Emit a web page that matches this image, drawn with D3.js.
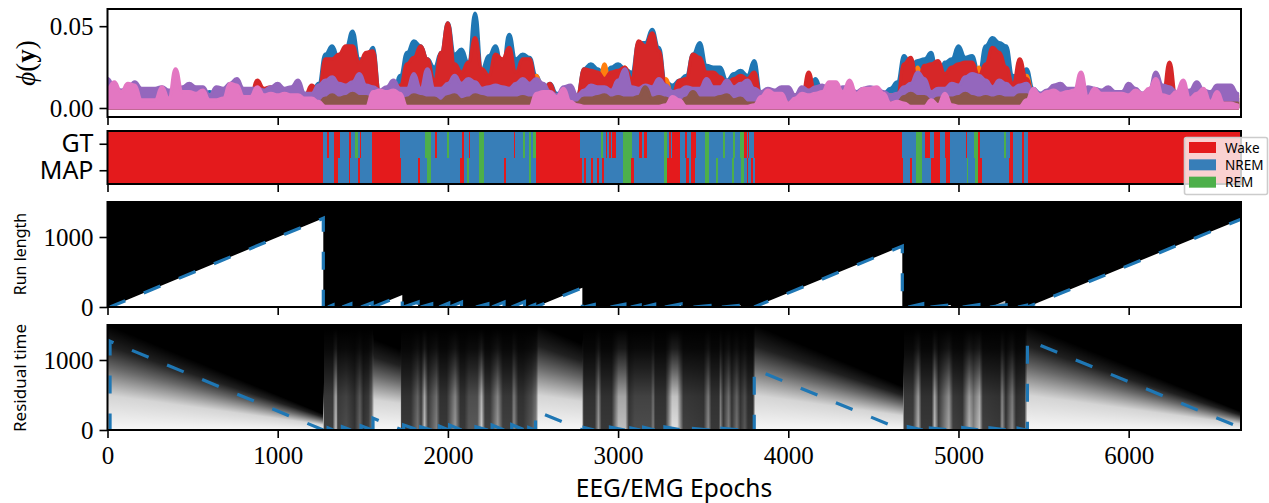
<!DOCTYPE html>
<html>
<head>
<meta charset="utf-8">
<script src="https://cdn.jsdelivr.net/npm/d3@7"></script>
<style>
  html, body { margin: 0; background: #fff; }
  svg { display: block; }
  .num { font-family: "Liberation Serif", serif; font-size: 25px; fill: #000; }
  .sans { font-family: "Noto Sans", sans-serif; fill: #000; }
</style>
</head>
<body>
<div id="chart"></div>
<script>
// phi(y) per epoch bin (one value every phiStep epochs), in thousandths
const phiStep = 40;
const phiBlue = [8,8,8,8,9,8,8,8,8,8,8,8,9,8,8,10,8,9,8,8,8,9,8,8,9,8,8,11,9,9,9,15,33,38,30,37,47,30,30,37,10,9,9,20,34,41,38,30,25,34,52,33,36,28,58,24,32,
  38,24,45,30,33,31,20,12,15,9,8,8,8,24,27,24,20,25,27,24,22,40,40,48,37,16,14,17,20,33,40,26,25,25,17,21,23,20,29,9,8,8,8,8,8,8,8,18,10,9,9,9,9,9,9,9,
  9,9,12,16,32,26,29,30,34,14,28,30,38,31,32,22,38,43,40,38,20,18,24,12,9,9,9,9,9,9,9,9,9,9,9,9,9,10,9,9,9,9,9,9,9,9,9,8,8,9,9,9,8,6];
const phiRed = [7,7,7,7,7,7,7,7,7,7,7,7,7,7,7,7,7,7,7,7,7,7,17,12,13,10,9,9,9,8,14,10,30,30,33,38,38,28,34,35,10,8,8,14,27,31,38,30,17,34,52,27,22,28,43,24,20,
  33,30,37,22,30,30,15,10,15,7,6,8,8,24,23,22,18,22,23,25,18,41,38,46,35,14,9,17,18,33,31,22,22,19,15,18,20,18,22,8,7,7,7,7,7,7,22,8,8,8,8,8,8,8,8,8,
  7,7,7,8,27,31,14,26,27,29,21,25,27,28,28,20,27,37,34,25,15,30,18,8,7,7,7,7,7,7,7,7,7,7,7,7,7,7,7,7,7,7,8,28,7,7,7,7,7,7,7,7,6,4];
const phiPurple = [18,13,11,12,16,12,12,12,13,11,11,13,15,13,13,8,13,12,15,18,12,12,12,11,13,15,12,13,17,9,9,14,17,19,15,14,16,21,14,13,11,13,17,12,12,21,12,24,12,12,15,20,15,18,16,12,13,
  14,13,12,15,18,15,18,15,10,8,13,14,8,11,14,13,13,11,17,24,13,12,14,13,18,14,10,11,13,12,12,18,13,13,17,13,15,17,12,10,12,11,13,13,8,13,11,13,14,11,11,13,13,10,12,13,
  12,10,8,9,13,15,22,18,10,12,12,15,14,19,21,20,17,13,17,15,12,14,15,10,9,11,14,15,12,12,10,13,12,11,13,10,10,15,12,9,11,22,14,13,10,10,11,16,11,10,14,14,14,9];
const phiBrown = [3,3,3,3,3,3,3,3,3,3,3,3,3,3,3,3,3,3,3,3,3,3,3,3,3,3,3,3,3,3,3,3,6,8,6,7,9,7,7,5,3,3,3,3,6,8,7,6,6,4,7,8,5,6,8,7,6,
  6,6,6,6,7,6,6,3,3,3,3,3,3,6,6,7,8,6,7,6,6,7,13,6,7,6,3,3,6,10,6,6,6,7,8,5,6,3,3,3,3,3,3,3,3,3,3,3,3,3,3,3,3,3,3,3,
  3,3,3,3,7,9,7,7,4,6,6,6,7,9,7,6,7,6,7,6,6,8,8,3,3,3,3,3,3,3,3,3,3,3,3,3,3,3,3,3,3,3,3,3,3,3,3,3,3,3,3,3,3,3];
const phiPink = [12,16,10,15,14,5,5,5,13,6,24,10,10,9,11,5,5,6,15,14,7,7,13,8,9,8,9,8,8,6,6,4,1,1,1,1,1,1,1,10,11,10,11,9,1,1,1,1,1,1,1,1,1,1,1,1,1,
  1,1,1,1,1,1,9,10,10,7,12,4,2,1,1,1,1,1,1,1,1,1,1,1,1,2,7,5,1,1,1,1,1,1,1,1,1,1,2,7,11,9,9,3,6,9,8,9,10,16,16,10,17,9,12,12,
  13,9,3,4,3,1,1,1,5,2,9,2,1,1,1,1,1,1,1,1,1,1,5,12,8,10,11,9,10,11,22,7,12,9,9,9,9,8,11,9,12,18,8,7,10,17,6,9,12,4,10,3,3,2];
// orange only pokes out at a few places
const phiOrangeEpochs = [0,1840,1880,1920,2160,2200,2240,2480,2520,2560,2880,2920,2960,3000,3040,3080,3240,3280,3320,4720,4760,4800,5080,5120,5160,5360,5400,5440,6640];
const phiOrangeValues = [8,8,24,8,8,24,8,8,20,8,8,27,8,8,25,8,8,18,8,8,25,8,8,25,8,8,20,8,8];

const yTicksPhi = [0, 0.05];
const yTicksLong = [0, 1000];
const xTicks = [0, 1000, 2000, 3000, 4000, 5000, 6000];

// hypnogram: each state runs from its epoch to the next entry
const gtSegments = [[0,"W"],[1264,"N"],[1288,"W"],[1300,"N"],[1331,"W"],[1364,"N"],[1420,"W"],[1432,"N"],[1456,"G"],[1470,"N"],[1484,"W"],[1492,"N"],[1556,"W"],[1719,"N"],[1863,"G"],[1899,"N"],[1923,"W"],[1935,"N"],[1995,"G"],[2007,"N"],[2084,"W"],[2093,"N"],[2122,"W"],[2132,"N"],[2180,"G"],[2211,"N"],[2386,"W"],[2396,"N"],[2439,"G"],[2451,"N"],[2479,"G"],[2491,"N"],[2503,"G"],[2515,"W"],[2779,"N"],[2899,"G"],[2914,"N"],[2928,"W"],[2935,"N"],[2949,"W"],[2957,"N"],[2966,"W"],[2974,"N"],[2978,"W"],[2985,"N"],[3026,"G"],[3083,"N"],[3124,"W"],[3138,"N"],[3155,"W"],[3167,"N"],[3268,"G"],[3287,"N"],[3299,"W"],[3308,"N"],[3318,"W"],[3364,"N"],[3395,"W"],[3407,"N"],[3431,"W"],[3455,"N"],[3510,"G"],[3534,"N"],[3618,"G"],[3630,"N"],[3675,"G"],[3687,"N"],[3718,"G"],[3742,"W"],[3757,"N"],[3766,"W"],[3772,"N"],[3800,"W"],[4666,"N"],[4750,"G"],[4788,"N"],[4802,"W"],[4834,"N"],[4858,"W"],[4889,"N"],[4922,"W"],[4953,"N"],[5042,"W"],[5052,"N"],[5090,"G"],[5114,"W"],[5128,"N"],[5265,"G"],[5277,"N"],[5301,"W"],[5320,"N"],[5373,"W"],[5385,"N"],[5409,"W"]];
const mapSegments = [[0,"W"],[1264,"N"],[1331,"W"],[1353,"N"],[1420,"W"],[1427,"N"],[1470,"W"],[1482,"N"],[1556,"W"],[1727,"N"],[1825,"W"],[1834,"N"],[1875,"G"],[1899,"N"],[2074,"W"],[2093,"N"],[2110,"G"],[2125,"N"],[2180,"G"],[2211,"N"],[2331,"W"],[2340,"N"],[2479,"G"],[2491,"N"],[2515,"W"],[2789,"N"],[2798,"W"],[2810,"N"],[2842,"W"],[2854,"N"],[2878,"W"],[2890,"N"],[2907,"W"],[2916,"N"],[3026,"G"],[3078,"W"],[3095,"N"],[3268,"G"],[3287,"W"],[3364,"N"],[3400,"W"],[3414,"N"],[3431,"W"],[3450,"N"],[3510,"G"],[3534,"N"],[3575,"G"],[3587,"N"],[3671,"G"],[3683,"N"],[3723,"G"],[3738,"N"],[3759,"W"],[3766,"N"],[3781,"W"],[3790,"N"],[3805,"W"],[4673,"N"],[4714,"W"],[4726,"N"],[4750,"G"],[4788,"N"],[4841,"W"],[4889,"N"],[4925,"W"],[4953,"N"],[5049,"G"],[5056,"N"],[5097,"G"],[5114,"W"],[5138,"N"],[5296,"W"],[5320,"N"],[5373,"W"],[5385,"N"],[5409,"W"]];
const stageRows = ["GT", "MAP"];
const stageNames = ["Wake", "NREM", "REM"];
const stageKeys = ["W", "N", "G"];

// MAP runs of the change point model: start epoch, end epoch, run length at the end
const runStart = [15,1296,1380,1490,1560,1740,1840,1950,2010,2165,2260,2375,2475,2515,2800,2955,3075,3150,3275,3443,3610,3800,4705,4835,5025,5185,5350,5405];
const runEnd = [1268,1325,1430,1555,1732,1825,1905,2005,2080,2235,2330,2450,2510,2790,2860,3040,3130,3215,3370,3540,3720,4670,4790,4955,5120,5280,5400,6690];
const runTop = [1268,30,45,60,170,70,45,55,70,45,70,75,35,275,35,40,30,40,45,20,25,870,45,30,35,30,25,1285];
// where the dash pattern sits along each run
const runDash = [1.5,0,0,0,0,0,0,0,0,0,0,0,0,8.5,0,0,0,0,0,0,0,2.8,0,0,0,0,0,9.8];
// the blurred little triangle around epoch 5200
const softRunEpochs = [5190,5275,5275];
const softRunValues = [0,90,0];

// residual time heat map: how far up a column fades out, and how bright it is at the bottom
const reachEpochs = [0,1264,1270,1556,1563,1718,1725,2520,2528,2785,2795,3790,3803,4670,4678,5390,5402,6660];
const reachValues = [1500,230,1450,1450,1300,1150,1450,1450,1500,1230,1450,1450,1500,620,1450,1450,1500,260];
const glowEpochs = [0,1264,1270,1320,1335,1342,1350,1400,1450,1480,1500,1530,1550,1563,1718,1725,1780,1820,1840,1860,1880,1930,1950,1990,2040,2070,2095,2120,2170,2195,2215,2245,2290,2320,2370,2385,2410,2440,2490,2515,2528,2785,2795,2860,2882,2900,2960,3000,3040,3060,3095,3190,3203,3215,3275,3290,3315,3345,3380,3500,3527,3545,3590,3598,3615,3647,3665,3695,3715,3742,3760,3790,3803,4670,4678,4730,4761,4780,4840,4857,4880,4941,4965,5020,5060,5085,5121,5140,5240,5253,5275,5313,5335,5385,5402,6660];
const glowValues = [0.97,0.97,0.25,0.25,0.7,0.7,0.25,0.3,0.2,0.4,0.2,0.25,0.45,0.97,0.97,0.22,0.22,0.45,0.25,0.75,0.25,0.5,0.22,0.22,0.6,0.22,0.22,0.35,0.35,0.8,0.25,0.25,0.6,0.25,0.25,0.55,0.22,0.22,0.35,0.5,0.97,0.97,0.22,0.22,0.6,0.22,0.22,0.75,0.75,0.22,0.3,0.3,0.5,0.22,0.22,0.45,0.88,0.88,0.25,0.22,0.55,0.22,0.22,0.55,0.22,0.5,0.22,0.45,0.22,0.35,0.2,0.2,0.97,0.97,0.25,0.25,0.7,0.22,0.22,0.75,0.25,0.65,0.25,0.22,0.7,0.5,0.75,0.25,0.22,0.6,0.2,0.55,0.2,0.25,0.97,0.97];
const fadeOffsets = [0, 0.33, 0.6, 0.8, 1];
const fadeOpacity = [1, 0.86, 0.42, 0.13, 0];

const palette = { blue: "#1f77b4", orange: "#ff7f0e", red: "#d62728", purple: "#9467bd", brown: "#8c564b", pink: "#e377c2" };
const stageColors = ["#e41a1c", "#377eb8", "#4daf4a"];

const width = 1269, height = 503;
const left = 107.5, right = 1241;
const panels = {
  phi: [9, 117],
  stage: [131, 184],
  run: [202, 307],
  residual: [325, 430]
};

const svg = d3.select("#chart").append("svg").attr("width", width).attr("height", height);
const defs = svg.append("defs");

const x = d3.scaleLinear().domain([0, 6660]).range([left, right]);
const phiY = d3.scaleLinear().domain([-0.0055, 0.0605]).range([panels.phi[1], panels.phi[0]]);
const stageY = d3.scaleBand().domain(stageRows).range(panels.stage);
const stageColor = d3.scaleOrdinal().domain(stageKeys).range(stageColors);
const runY = d3.scaleLinear().domain([0, 1500]).range([panels.run[1], panels.run[0]]);
const resY = d3.scaleLinear().domain([0, 1500]).range([panels.residual[1], panels.residual[0]]);

Object.entries(panels).forEach(([name, [top, bottom]]) => {
  defs.append("clipPath").attr("id", "clip-" + name)
    .append("rect").attr("x", left).attr("y", top).attr("width", right - left).attr("height", bottom - top);
});

// top panel, painted in the order the lines were plotted
const phiGroup = svg.append("g").attr("clip-path", "url(#clip-phi)");
const phiArea = d3.area().curve(d3.curveBumpX).x((d) => x(d[0])).y0(phiY(0)).y1((d) => phiY(d[1] / 1000));
const layers = [
  [phiBlue.map((v, i) => [i * phiStep, v]), palette.blue],
  [phiOrangeEpochs.map((e, i) => [e, phiOrangeValues[i]]), palette.orange],
  [phiRed.map((v, i) => [i * phiStep, v]), palette.red],
  [phiPurple.map((v, i) => [i * phiStep, v]), palette.purple],
  [phiBrown.map((v, i) => [i * phiStep, v]), palette.brown],
  [phiPink.map((v, i) => [i * phiStep, v]), palette.pink]
];
layers.forEach(([pts, color]) => {
  phiGroup.append("path").attr("d", phiArea(pts))
    .attr("fill", color).attr("stroke", color)
    .attr("stroke-width", 3.2).attr("stroke-linejoin", "round");
});

// hypnogram rows
const stageGroup = svg.append("g");
[["GT", gtSegments], ["MAP", mapSegments]].forEach(([row, segments]) => {
  stageGroup.selectAll(null).data(segments).enter().append("rect")
    .attr("x", (d) => x(d[0]))
    .attr("y", stageY(row))
    .attr("width", (d, i) => x(i + 1 < segments.length ? segments[i + 1][0] : 6660) - x(d[0]))
    .attr("height", stageY.bandwidth())
    .attr("fill", (d) => stageColor(d[1]))
    .attr("shape-rendering", "crispEdges");
});

// run length panel
const runPoints = runStart.map((s, i) => [[s, 0], [runEnd[i], runTop[i]], [runEnd[i], 0]]).flat();
const runGroup = svg.append("g").attr("clip-path", "url(#clip-run)");
runGroup.append("rect").attr("x", left).attr("y", panels.run[0])
  .attr("width", right - left).attr("height", panels.run[1] - panels.run[0]).attr("fill", "#000");
runGroup.append("path")
  .attr("d", d3.area().x((d) => x(d[0])).y0(runY(0)).y1((d) => runY(d[1]))(softRunEpochs.map((e, i) => [e, softRunValues[i]])))
  .attr("fill", "#bbb");
runGroup.append("path")
  .attr("d", d3.area().x((d) => x(d[0])).y0(runY(0)).y1((d) => runY(d[1]))(runPoints))
  .attr("fill", "#fff");
const runLine = d3.line().x((d) => x(d[0])).y((d) => runY(d[1]));
runGroup.selectAll("path.map").data(runStart).enter().append("path")
  .attr("class", "map")
  .attr("d", (s, i) => runLine([[s, 0], [runEnd[i], runTop[i]], [runEnd[i], 0]]))
  .attr("fill", "none").attr("stroke", palette.blue).attr("stroke-width", 3.2)
  .attr("stroke-dasharray", "18 20").attr("stroke-dashoffset", (s, i) => runDash[i]);

// residual time panel: one faded column per pixel
const fade = defs.append("linearGradient").attr("id", "fade")
  .attr("x1", 0).attr("y1", 1).attr("x2", 0).attr("y2", 0);
fadeOffsets.forEach((o, i) => {
  fade.append("stop").attr("offset", o).attr("stop-color", "#fff").attr("stop-opacity", fadeOpacity[i]);
});
const reachAt = d3.scaleLinear().domain(reachEpochs).range(reachValues);
const glowAt = d3.scaleLinear().domain(glowEpochs).range(glowValues);
const resGroup = svg.append("g").attr("clip-path", "url(#clip-residual)");
resGroup.append("rect").attr("x", left).attr("y", panels.residual[0])
  .attr("width", right - left).attr("height", panels.residual[1] - panels.residual[0]).attr("fill", "#000");
resGroup.selectAll("rect.col").data(d3.range(Math.floor(left), Math.ceil(right))).enter().append("rect")
  .attr("class", "col")
  .attr("x", (d) => d)
  .attr("width", 1)
  .attr("y", (d) => resY(reachAt(x.invert(d))))
  .attr("height", (d) => resY(0) - resY(reachAt(x.invert(d))))
  .attr("fill", "url(#fade)")
  .attr("opacity", (d) => glowAt(x.invert(d)));
const resLine = d3.line().x((d) => x(d[0])).y((d) => resY(d[1]));
resGroup.selectAll("path.map").data(runStart).enter().append("path")
  .attr("class", "map")
  .attr("d", (s, i) => resLine([[s, 0], [s, runTop[i]], [runEnd[i], 0]]))
  .attr("fill", "none").attr("stroke", palette.blue).attr("stroke-width", 3.2)
  .attr("stroke-dasharray", "18 20").attr("stroke-dashoffset", (s, i) => runDash[i]);

// frames, ticks and labels
function frame(name, yAxis) {
  const [top, bottom] = panels[name];
  const g = svg.append("g");
  const xAxis = d3.axisBottom(x).tickValues(xTicks).tickSize(8).tickPadding(8);
  if (name !== "residual") xAxis.tickFormat("");
  else xAxis.tickFormat(d3.format("d"));
  const xg = g.append("g").attr("transform", `translate(0,${bottom})`).call(xAxis);
  const yg = g.append("g").attr("transform", `translate(${left},0)`).call(yAxis);
  [xg, yg].forEach((a) => {
    a.select(".domain").remove();
    a.selectAll("line").attr("stroke", "#000").attr("stroke-width", 1.6);
    a.selectAll("text").attr("fill", "#000").attr("font-family", null).attr("font-size", null).attr("class", "num");
  });
  g.append("rect").attr("x", left).attr("y", top).attr("width", right - left).attr("height", bottom - top)
    .attr("fill", "none").attr("stroke", "#000").attr("stroke-width", 2);
  return yg;
}
frame("phi", d3.axisLeft(phiY).tickValues(yTicksPhi).tickSize(8).tickPadding(6).tickFormat(d3.format(".2f")));
frame("stage", d3.axisLeft(stageY).tickSize(8).tickPadding(6))
  .selectAll("text").attr("class", "sans").style("font-size", "25px");
frame("run", d3.axisLeft(runY).tickValues(yTicksLong).tickSize(8).tickPadding(6).tickFormat(d3.format("d")));
frame("residual", d3.axisLeft(resY).tickValues(yTicksLong).tickSize(8).tickPadding(6).tickFormat(d3.format("d")));

const phiLabel = svg.append("text").attr("transform", "translate(35,63) rotate(-90)")
  .attr("text-anchor", "middle").attr("font-family", "Liberation Serif, serif").attr("font-size", 27);
phiLabel.append("tspan").attr("font-style", "italic").text("ϕ");
phiLabel.append("tspan").text("(");
phiLabel.append("tspan").attr("font-weight", "bold").text("y");
phiLabel.append("tspan").text(")");

svg.append("text").attr("class", "sans").attr("transform", "translate(26,254) rotate(-90)")
  .attr("text-anchor", "middle").attr("font-size", 16).text("Run length");
svg.append("text").attr("class", "sans").attr("transform", "translate(26,378) rotate(-90)")
  .attr("text-anchor", "middle").attr("font-size", 17).text("Residual time");
svg.append("text").attr("class", "sans").attr("x", 674).attr("y", 497)
  .attr("text-anchor", "middle").attr("font-size", 24.5).text("EEG/EMG Epochs");

// legend sits over the right end of the hypnogram
const legend = svg.append("g");
legend.append("rect").attr("x", 1184.5).attr("y", 137.5).attr("width", 83).attr("height", 57).attr("rx", 2)
  .attr("fill", "#fff").attr("fill-opacity", 0.8).attr("stroke", "#ccc").attr("stroke-width", 1.6);
const legendRow = d3.scaleBand().domain(stageNames).range([142, 194]);
stageNames.forEach((n, i) => {
  legend.append("rect").attr("x", 1189).attr("y", legendRow(n)).attr("width", 27).attr("height", 11)
    .attr("fill", stageColors[i]);
  legend.append("text").attr("class", "sans").attr("x", 1225).attr("y", legendRow(n) + 10.5)
    .attr("font-size", 13.5).text(n);
});
</script>
</body>
</html>
